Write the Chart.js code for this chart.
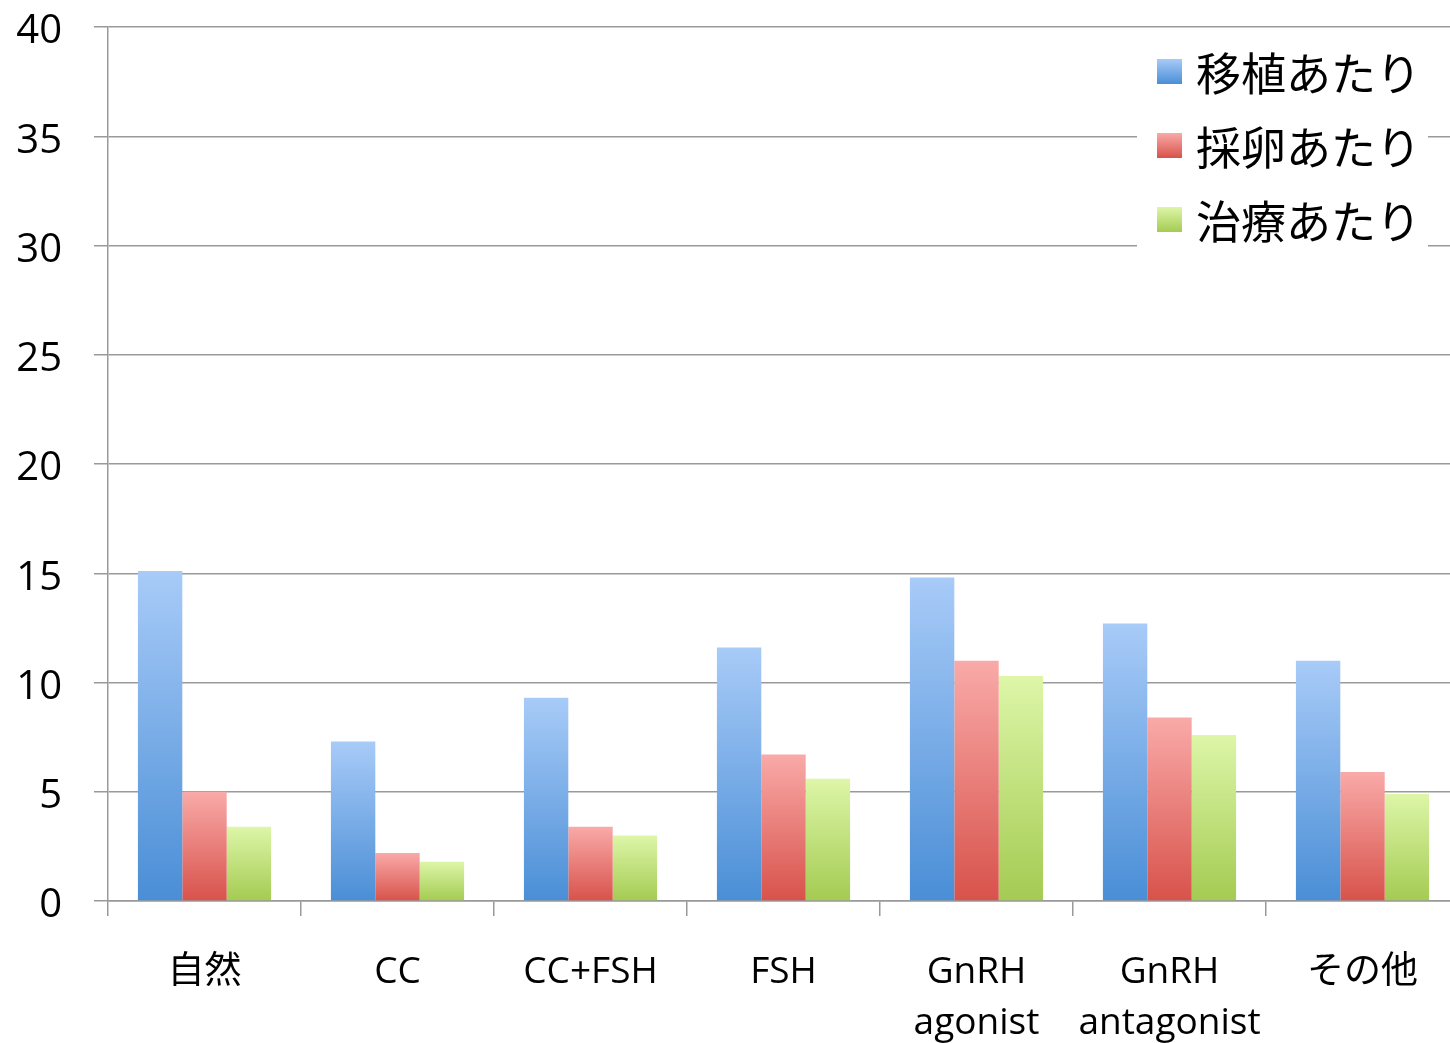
<!DOCTYPE html>
<html>
<head>
<meta charset="utf-8">
<script src="https://cdn.jsdelivr.net/npm/chart.js@4"></script>
<style>
  html, body { margin: 0; padding: 0; background: #fff; overflow: hidden; }
  #wrap { position: relative; width: 1460px; height: 1043px; }
  #legend {
    position: absolute; left: 1137px; top: 34px; width: 291px; height: 216px;
    background: #fff; font-family: "Noto Sans CJK JP", sans-serif; font-size: 45px; color: #000;
  }
  #legend .row { position: absolute; left: 20px; height: 60px; display: flex; align-items: center; }
  #legend .box { width: 25px; height: 25px; margin-right: 14px; }
</style>
</head>
<body>
<div id="wrap">
  <canvas id="chart" width="1460" height="1043"></canvas>
  <div id="legend"></div>
</div>
<script>
const categories = ['自然', 'CC', 'CC+FSH', 'FSH', ['GnRH', 'agonist'], ['GnRH', 'antagonist'], 'その他'];
const seriesNames = ['移植あたり', '採卵あたり', '治療あたり'];
const perTransfer = [15.1, 7.3, 9.3, 11.6, 14.8, 12.7, 11.0];
const perRetrieval = [5.0, 2.2, 3.4, 6.7, 11.0, 8.4, 5.9];
const perTreatment = [3.4, 1.8, 3.0, 5.6, 10.3, 7.6, 4.9];
const yTicks = [0, 5, 10, 15, 20, 25, 30, 35, 40];

// light top -> dark bottom for each bar
const shades = [
  ['#a8cbf8', '#4a8ed6'],
  ['#f9aaa8', '#d8524b'],
  ['#ddf6a8', '#a4cb52']
];

function barGradient(ctx, idx) {
  const chart = ctx.chart;
  const area = chart.chartArea;
  if (!area || ctx.type !== 'data') return shades[idx][1];
  const y = chart.scales.y;
  const top = y.getPixelForValue(ctx.raw);
  const bottom = y.getPixelForValue(0);
  const g = chart.ctx.createLinearGradient(0, top, 0, bottom);
  g.addColorStop(0, shades[idx][0]);
  g.addColorStop(1, shades[idx][1]);
  return g;
}

const values = [perTransfer, perRetrieval, perTreatment];
const datasets = values.map((v, i) => ({
  label: seriesNames[i],
  data: v,
  backgroundColor: ctx => barGradient(ctx, i),
  borderWidth: 0,
  categoryPercentage: 0.69,
  barPercentage: 1.0
}));

const gridGrey = '#999999';
const tickFont = { family: '"Open Sans", "Noto Sans CJK JP", sans-serif', size: 37 };

new Chart(document.getElementById('chart'), {
  type: 'bar',
  data: { labels: categories, datasets: datasets },
  options: {
    responsive: false,
    animation: false,
    layout: { padding: { top: 27, right: 1, left: 0, bottom: 0 } },
    plugins: { legend: { display: false }, tooltip: { enabled: false } },
    scales: {
      x: {
        offset: true,
        grid: { offset: true, drawOnChartArea: false, color: gridGrey, tickLength: 15, lineWidth: 1.5 },
        border: { color: gridGrey, width: 1.5 },
        ticks: { color: '#000', font: { ...tickFont, lineHeight: 1.38 }, padding: 31, maxRotation: 0, autoSkip: false },
        afterFit: s => { s.height = 142; s.paddingTop = 0; s.paddingBottom = 0; }
      },
      y: {
        min: 0, max: 40,
        afterBuildTicks: s => { s.ticks = yTicks.map(v => ({ value: v })); },
        grid: { color: gridGrey, tickLength: 14, lineWidth: 1.5 },
        border: { color: gridGrey, width: 1.5 },
        // empty first line nudges the number a few px below its gridline, as in the original
        ticks: { color: '#000', font: { ...tickFont, size: 40, lineHeight: '10px' }, padding: 32,
                 callback: v => ['', String(v)] },
        afterFit: s => { s.width = 108; s.paddingTop = 0; s.paddingBottom = 0; }
      }
    }
  }
});

// legend overlay (sits on top of the grid with white background)
const legend = document.getElementById('legend');
seriesNames.forEach((name, i) => {
  const row = document.createElement('div');
  row.className = 'row';
  row.style.top = (7 + i * 74) + 'px';
  const box = document.createElement('div');
  box.className = 'box';
  box.style.background = 'linear-gradient(' + shades[i][0] + ',' + shades[i][1] + ')';
  const txt = document.createElement('span');
  txt.textContent = name;
  row.appendChild(box);
  row.appendChild(txt);
  legend.appendChild(row);
});
</script>
</body>
</html>
